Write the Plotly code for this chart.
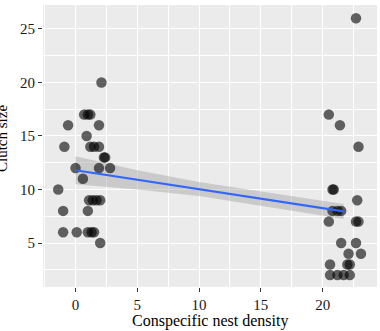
import plotly.graph_objects as go

# Data
left_x = [2.1, 0.7, 1.0, 1.2, -0.6, 1.9, 0.9, -0.9, 1.2, 1.5, 1.9, 2.3, 2.4, 0.0, 1.9, 2.8,
          0.6, -1.4, 1.1, 1.4, 1.7, 2.0, -1.0, 1.0, -1.0, 0.1, 1.0, 1.3, 1.5, 2.0]
left_y = [20, 17, 17, 17, 16, 16, 15, 14, 14, 14, 14, 13, 13, 12, 12, 12,
          11, 10, 9, 9, 9, 9, 8, 8, 6, 6, 6, 6, 6, 5]
right_x = [22.7, 20.5, 21.4, 22.9, 20.8, 20.9, 22.8, 20.8, 21.2, 21.5, 20.5, 22.7, 22.9,
           21.5, 22.7, 22.1, 23.1, 20.6, 22.0, 22.2, 20.6, 21.2, 21.7, 22.2]
right_y = [26, 17, 16, 14, 10, 10, 9, 8, 8, 8, 7, 7, 7,
           5, 5, 4, 4, 3, 3, 3, 2, 2, 2, 2]

fit_x = [0, 5, 10, 15, 21.7]
fit_y = [11.8, 10.9, 10.05, 9.15, 7.95]
ci_lower = [10.5, 10.0, 9.4, 8.5, 7.25]
ci_upper = [13.1, 11.8, 10.7, 9.8, 8.65]

x_ticks = [0, 5, 10, 15, 20]
y_ticks = [5, 10, 15, 20, 25]

fig = go.Figure()
fig.add_trace(go.Scatter(
    x=fit_x + fit_x[::-1], y=ci_upper + ci_lower[::-1],
    fill="toself", fillcolor="rgba(153,153,153,0.4)", line=dict(width=0),
    mode="lines", hoverinfo="skip", showlegend=False))
fig.add_trace(go.Scatter(
    x=left_x + right_x, y=left_y + right_y, mode="markers",
    marker=dict(size=10.5, color="rgba(0,0,0,0.6)", line=dict(width=0)),
    showlegend=False))
fig.add_trace(go.Scatter(
    x=fit_x, y=fit_y, mode="lines", line=dict(color="#3366FF", width=2.2),
    showlegend=False))

font = "Liberation Serif"
fig.update_layout(
    width=380, height=331,
    margin=dict(l=43, r=3, t=5, b=44),
    paper_bgcolor="white", plot_bgcolor="#EBEBEB",
    font=dict(family=font, color="#1a1a1a"),
    xaxis=dict(range=[-2.63, 24.4], tickvals=x_ticks, ticks="outside", ticklen=4,
               tickcolor="#333333", tickwidth=1, showline=False, zeroline=False,
               automargin=False,
               gridcolor="white", gridwidth=1.1,
               minor=dict(tickvals=[-2.5, 2.5, 7.5, 12.5, 17.5, 22.5], showgrid=True,
                          gridcolor="white", gridwidth=0.5, ticks=""),
               tickfont=dict(size=15, family=font, color="#1a1a1a")),
    yaxis=dict(range=[0.89, 27.24], tickvals=y_ticks, ticks="outside", ticklen=4,
               tickcolor="#333333", tickwidth=1, showline=False, zeroline=False,
               automargin=False,
               gridcolor="white", gridwidth=1.1,
               minor=dict(tickvals=[2.5, 7.5, 12.5, 17.5, 22.5], showgrid=True,
                          gridcolor="white", gridwidth=0.5, ticks=""),
               tickfont=dict(size=15, family=font, color="#1a1a1a")),
    annotations=[
        dict(text="Clutch size", xref="paper", yref="paper",
             x=-0.123, y=0.528, xanchor="center", yanchor="middle",
             textangle=-90, showarrow=False,
             font=dict(size=15, family=font, color="#000")),
        dict(text="Conspecific nest density", xref="paper", yref="paper",
             x=0.50, y=-0.12, xanchor="center", yanchor="middle",
             showarrow=False,
             font=dict(size=16, family=font, color="#000")),
    ],
)
fig.write_html("out.html", config={"displayModeBar": False},
               post_script="document.body.style.margin='0';document.body.style.overflow='hidden';")
